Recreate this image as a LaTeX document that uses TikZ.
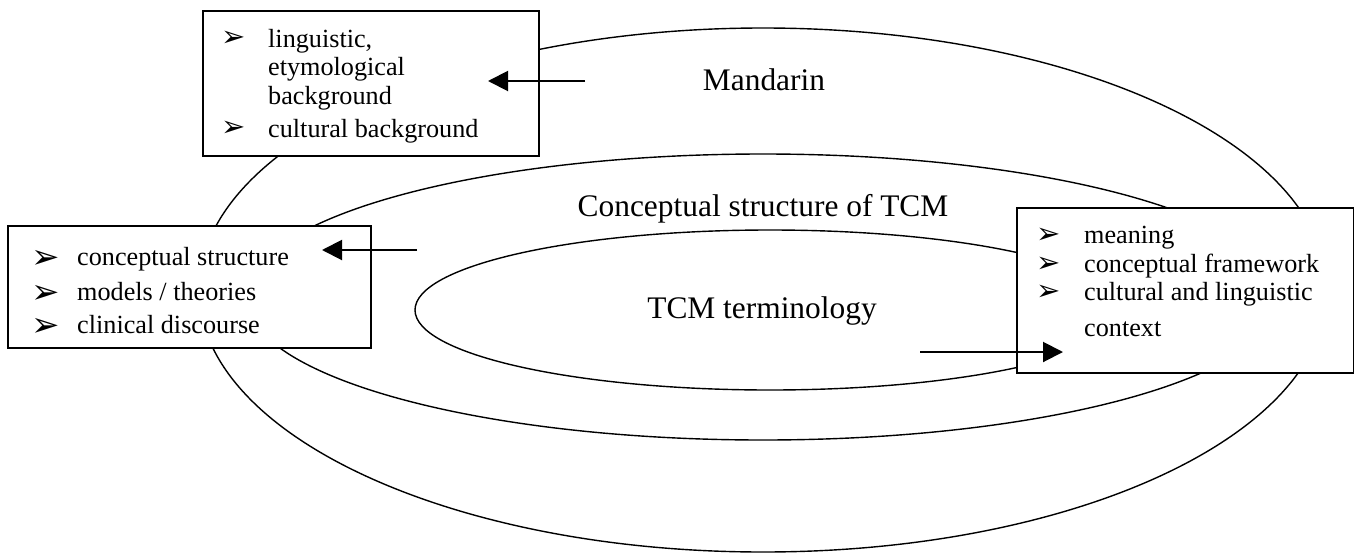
\documentclass[tikz,border=0pt]{standalone}
\usepackage{fontspec}
\setmainfont{Liberation Serif}
\newfontfamily\dingfont{DejaVu Sans}
\usetikzlibrary{arrows.meta}
\tikzset{
  ring/.style={line width=1.4pt},
  infobox/.style={draw, line width=2pt, fill=white, inner sep=0pt, anchor=north west},
  itemtext/.style={anchor=base west, inner sep=0pt, font=\fontsize{26.2}{30}\selectfont},
  bul/.style={anchor=base west, inner sep=0pt, font=\dingfont\fontsize{29}{30}\selectfont},
  bigbul/.style={anchor=base west, inner sep=0pt, font=\dingfont\fontsize{34}{36}\selectfont},
  title/.style={anchor=base, inner sep=0pt, font=\fontsize{31.4}{36}\selectfont},
  pointer/.style={line width=2pt, -{Triangle[length=20pt,width=20pt]}},
}
\begin{document}
\begin{tikzpicture}[x=1pt,y=-1pt]
\useasboundingbox (0,0) rectangle (1354,557);

% nested fields
\draw[ring] (763,290) ellipse [x radius=564, y radius=262];
\draw[ring] (763,297) ellipse [x radius=517, y radius=143];
\draw[ring] (770,310) ellipse [x radius=355, y radius=80];

\node[title] (mandarin) at (764,90) {Mandarin};
\node[title] (concept) at (763,216) {Conceptual structure of TCM};
\node[title] (terms) at (762,318) {TCM terminology};

% explanation boxes
\node[infobox, minimum width=336pt, minimum height=145pt] (bgbox) at (202,10) {};
\node[infobox, minimum width=363pt, minimum height=122pt] (csbox) at (7,225) {};
\node[infobox, minimum width=337pt, minimum height=165pt] (mbox) at (1016,207) {};

% top box
\node[bul] (b1) at (221,46) {➢};
\node[itemtext] (t1) at (268,47) {linguistic,};
\node[itemtext] (t2) at (268,75) {etymological};
\node[itemtext] (t3) at (268,104) {background};
\node[bul] (b2) at (221,136) {➢};
\node[itemtext] (t4) at (268,137) {cultural background};

% left box
\node[bigbul] (b3) at (31,268) {➢};
\node[itemtext] (t5) at (77,265) {conceptual structure};
\node[bigbul] (b4) at (31,303) {➢};
\node[itemtext] (t6) at (77,300) {models / theories};
\node[bigbul] (b5) at (31,336) {➢};
\node[itemtext] (t7) at (77,333) {clinical discourse};

% right box
\node[bul] (b6) at (1036,243) {➢};
\node[itemtext] (t8) at (1084,243) {meaning};
\node[bul] (b7) at (1036,272) {➢};
\node[itemtext] (t9) at (1084,272) {conceptual framework};
\node[bul] (b8) at (1036,300) {➢};
\node[itemtext] (t10) at (1084,300) {cultural and linguistic};
\node[itemtext] (t11) at (1084,336) {context};

% pointers
\coordinate (pa) at (585,81);
\coordinate (pa2) at (488,81);
\coordinate (pb) at (417,250);
\coordinate (pb2) at (322,250);
\coordinate (pc) at (920,352);
\coordinate (pc2) at (1063,352);
\draw[pointer] (pa) -- (pa2);
\draw[pointer] (pb) -- (pb2);
\draw[pointer] (pc) -- (pc2);
\end{tikzpicture}
\end{document}
